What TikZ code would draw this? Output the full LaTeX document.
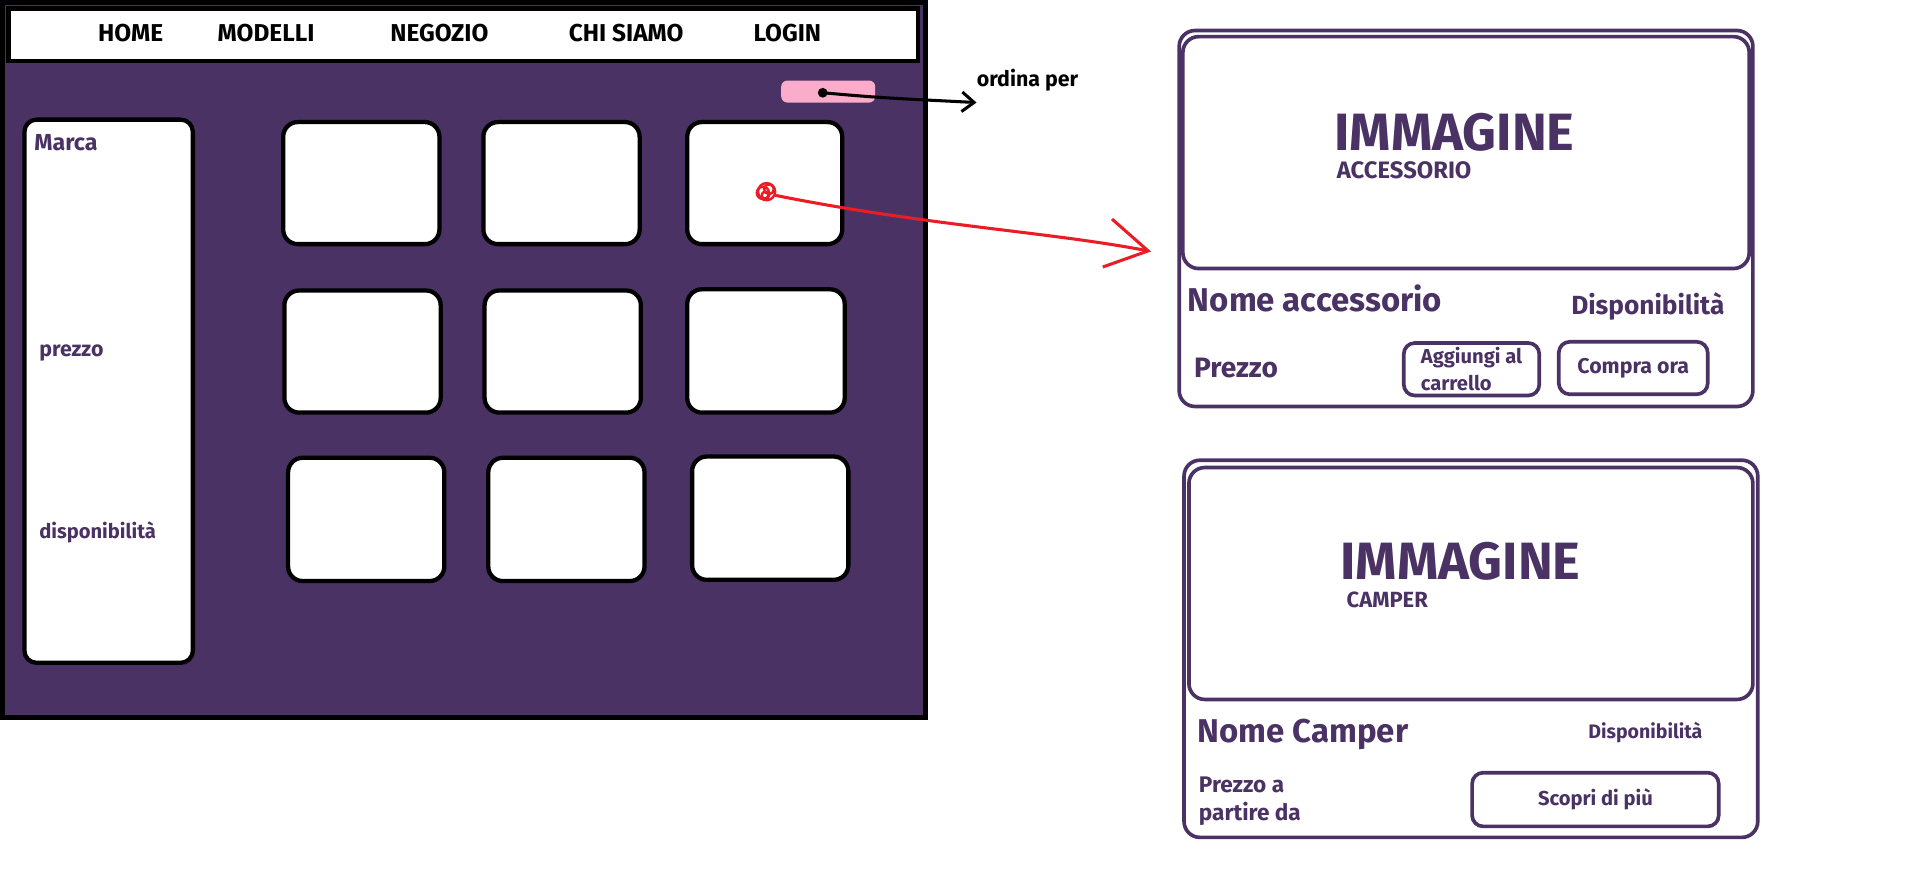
\documentclass[tikz,border=0pt]{standalone}
\usepackage{fontspec}
\setmainfont{Fira Sans}
\usetikzlibrary{arrows.meta}
\definecolor{viola}{RGB}{74,50,100}
\definecolor{rosa}{RGB}{250,172,202}
\definecolor{rosso}{RGB}{236,28,36}

\tikzset{
    box/.style={draw=black, line width=3.5pt, fill=white, rounded corners=12pt, inner sep=0pt},
    scheda/.style={draw=viola, line width=3pt, rounded corners=13pt, inner sep=0pt},
    bottone/.style={draw=viola, line width=3pt, rounded corners=9pt, inner sep=0pt, text=viola},
    voce/.style={font=\bfseries\fontsize{20}{20}\selectfont, text=black, anchor=base, inner sep=0pt},
    testo/.style={text=viola, anchor=base west, inner sep=0pt},
}

\begin{document}
\begin{tikzpicture}[x=1pt, y=-1pt]
            \useasboundingbox (0,0) rectangle (1568,712);

            \draw [black, line width=4pt, fill=viola] (2,2) rectangle (758,588);
            \node [draw=black, line width=3.5pt, fill=white, inner sep=0pt, minimum width=745pt, minimum height=43pt] (menu) at (379.5,28.5) {};

            \node [voce] (home) at (107,34) {HOME};
            \node [voce] (modelli) at (218,34) {MODELLI};
            \node [voce] (negozio) at (360,34) {NEGOZIO};
            \node [voce] (chisiamo) at (513,34) {CHI SIAMO};
            \node [voce] (login) at (645,34) {LOGIN};

            \node [fill=rosa, rounded corners=5pt, minimum width=77pt, minimum height=18pt, inner sep=0pt] (ordina) at (678.5,75) {};
            \coordinate (punto) at (674,76);
            \coordinate (fine) at (800,84);
            \fill [black] (punto) circle (4pt);
            \draw [black, line width=2.5pt, -{Straight Barb[length=10pt, width=16pt]}] (punto) .. controls (720,80) .. (fine);
            \node [testo, text=black, font=\bfseries\fontsize{17.5}{17.5}\selectfont] (ordinaper) at (800,71) {ordina per};

            \node [box, rounded corners=10pt, minimum width=138pt, minimum height=445pt] (filtri) at (89,320.5) {};
            \node [testo, font=\bfseries\fontsize{19}{19}\selectfont] (marca) at (28,123) {Marca};
            \node [testo, font=\bfseries\fontsize{17.5}{17.5}\selectfont] (prezzo) at (32,292) {prezzo};
            \node [testo, font=\bfseries\fontsize{16.5}{16.5}\selectfont] (disp) at (32,441) {disponibilità};

            \node [box, minimum width=128pt, minimum height=100pt] (c11) at (296,150) {};
            \node [box, minimum width=128pt, minimum height=100pt] (c12) at (460,150) {};
            \node [box, minimum width=127pt, minimum height=100pt] (c13) at (626.5,150) {};
            \node [box, minimum width=128pt, minimum height=100pt] (c21) at (297,288) {};
            \node [box, minimum width=128pt, minimum height=100pt] (c22) at (461,288) {};
            \node [box, minimum width=129pt, minimum height=101pt] (c23) at (627.5,287.5) {};
            \node [box, minimum width=128pt, minimum height=101pt] (c31) at (300,425.5) {};
            \node [box, minimum width=128pt, minimum height=101pt] (c32) at (464,425.5) {};
            \node [box, minimum width=128pt, minimum height=101pt] (c33) at (631,424.5) {};

            \coordinate (scribble) at (628,157);
            \coordinate (rtip) at (943,206);
            \draw [rosso, line width=2pt] (scribble) circle (7pt);
            \draw [rosso, line width=2pt] (625,158) circle (5pt);
            \draw [rosso, line width=2pt] (630,155) circle (4pt);
            \draw [rosso, line width=2pt] (627,160) circle (3pt);
            \draw [rosso, line width=2.5pt, -{Straight Barb[length=34pt, width=40pt]}] (635,160) .. controls (760,185) and (860,190) .. (rtip);

            \node [scheda, minimum width=470pt, minimum height=308pt] (scheda1) at (1201,179) {};
            \node [scheda, minimum width=464pt, minimum height=190pt] (img1) at (1201,125) {};
            \node [testo, font=\bfseries\fontsize{43}{43}\selectfont] (imm1) at (1093,123) {IMMAGINE};
            \node [testo, font=\bfseries\fontsize{19.5}{19.5}\selectfont] (acc) at (1095,146) {ACCESSORIO};
            \node [testo, font=\bfseries\fontsize{27}{27}\selectfont] (nomeacc) at (973,255) {Nome accessorio};
            \node [testo, font=\bfseries\fontsize{21.5}{21.5}\selectfont] (disp1) at (1287,258) {Disponibilità};
            \node [testo, font=\bfseries\fontsize{23}{23}\selectfont] (prezzo1) at (978,309) {Prezzo};
            \node [bottone, minimum width=111pt, minimum height=43pt, align=left, font=\bfseries\fontsize{16.5}{22}\selectfont] (carrello) at (1205.5,302.5) {Aggiungi al\\carrello};
            \node [bottone, minimum width=122pt, minimum height=43pt, font=\bfseries\fontsize{17.5}{17.5}\selectfont] (compra) at (1338,301.5) {Compra ora};

            \node [scheda, minimum width=470pt, minimum height=309pt] (scheda2) at (1205,531.5) {};
            \node [scheda, minimum width=462pt, minimum height=190pt] (img2) at (1205,478) {};
            \node [testo, font=\bfseries\fontsize{43}{43}\selectfont] (imm2) at (1098,475) {IMMAGINE};
            \node [testo, font=\bfseries\fontsize{18}{18}\selectfont] (camper) at (1103,498) {CAMPER};
            \node [testo, font=\bfseries\fontsize{27}{27}\selectfont] (nomecamper) at (981,608) {Nome Camper};
            \node [testo, font=\bfseries\fontsize{16}{16}\selectfont] (disp2) at (1301,605) {Disponibilità};
            \node [testo, font=\bfseries\fontsize{18.5}{18.5}\selectfont] (prezzoa) at (982,649) {Prezzo a};
            \node [testo, font=\bfseries\fontsize{18.5}{18.5}\selectfont] (partire) at (982,672) {partire da};
            \node [bottone, minimum width=202pt, minimum height=44pt, font=\bfseries\fontsize{16.5}{16.5}\selectfont] (scopri) at (1307,655) {Scopri di più};

\end{tikzpicture}
\end{document}
